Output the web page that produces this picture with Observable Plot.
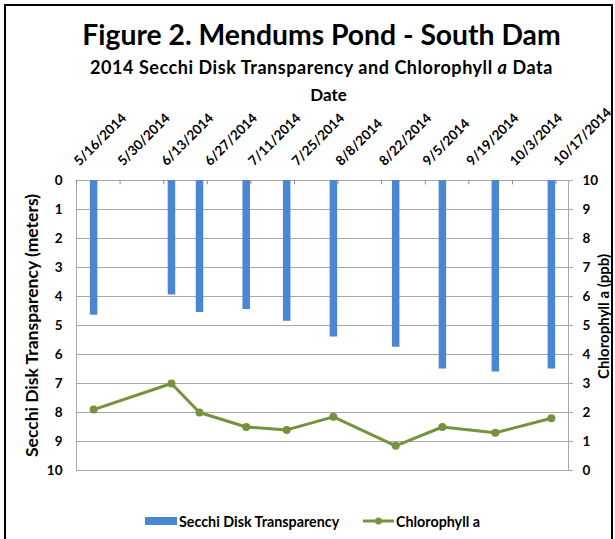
<!DOCTYPE html>
<html><head><meta charset="utf-8">
<script src="https://cdn.jsdelivr.net/npm/d3@7"></script>
<script src="https://cdn.jsdelivr.net/npm/@observablehq/plot@0.6"></script>
<style>
body{margin:0;background:#fff;font-family:Lato,"Open Sans",sans-serif;}
#wrap{position:relative;width:615px;height:539px;overflow:hidden;background:#fff;}
#frame{position:absolute;left:4px;top:4px;width:605px;height:600px;border:2px solid #000;}
.t{position:absolute;left:0;width:615px;text-align:center;font-weight:bold;color:#000;white-space:nowrap;}
#chart{position:absolute;left:0;top:0;}
#legend{position:absolute;left:0;top:511px;width:615px;height:20px;font-weight:bold;font-size:14.3px;color:#000;}
#legend .item{position:absolute;top:0;display:flex;align-items:center;height:20px;}
</style></head><body>
<div id="wrap">
  <div id="frame"></div>
  <div id="chart"></div>
  <div class="t" style="top:17px;font-size:28.3px;left:14px;">Figure 2. Mendums Pond - South Dam</div>
  <div class="t" style="top:56px;font-size:18px;left:14px;letter-spacing:0.55px;">2014 Secchi Disk Transparency and Chlorophyll <i>a</i> Data</div>
  <div class="t" style="top:84px;font-size:17px;left:21px;">Date</div>
  <div id="legend">
    <div class="item" style="left:145px;"><span style="display:inline-block;width:32px;height:8px;background:#4a86d4;margin-right:2px;"></span>Secchi Disk Transparency</div>
    <div class="item" style="left:363px;"><svg width="31" height="10" style="margin-right:2px"><line x1="0" y1="5" x2="31" y2="5" stroke="#76923c" stroke-width="3"/><circle cx="15.5" cy="5" r="3.5" fill="#76923c"/></svg>Chlorophyll a</div>
  </div>
</div>
<script>
// ---- data ----
const sampleDates = ["2014-05-21","2014-06-15","2014-06-24","2014-07-09","2014-07-22","2014-08-06","2014-08-26","2014-09-10","2014-09-27","2014-10-15"];
const secchiDepth = [4.65, 3.95, 4.55, 4.45, 4.85, 5.4, 5.75, 6.5, 6.6, 6.5];
const chlorophyll = [2.1, 3.0, 2.0, 1.5, 1.4, 1.85, 0.85, 1.5, 1.3, 1.8];
const dateTickLabels = ["5/16/2014","5/30/2014","6/13/2014","6/27/2014","7/11/2014","7/25/2014","8/8/2014","8/22/2014","9/5/2014","9/19/2014","10/3/2014","10/17/2014"];
const depthTicks = [0,1,2,3,4,5,6,7,8,9,10];
const chlTicks = [0,1,2,3,4,5,6,7,8,9,10];
const xDomain = ["2014-05-16","2014-10-21"];

const parse = d3.utcParse("%m/%d/%Y");
const tickDates = dateTickLabels.map(parse);
const data = sampleDates.map((d, i) => ({
  date: d3.utcHour.offset(new Date(d), 12),
  secchi: secchiDepth[i],
  chl: chlorophyll[i]
}));
const chlMax = 10;
const blue = "#4a86d4", green = "#76923c", grid = "#a8a8a8";

const chart = Plot.plot({
  width: 615, height: 539,
  marginTop: 180, marginLeft: 76, marginRight: 47, marginBottom: 69,
  style: {fontFamily: "Lato, 'Open Sans', sans-serif", fontWeight: "bold", fontSize: "13px", color: "#000", background: "transparent"},
  x: {type: "utc", domain: xDomain.map(d => new Date(d))},
  y: {domain: [0, 10], reverse: true},
  marks: [
    Plot.gridY(depthTicks, {stroke: grid, strokeOpacity: 1}),
    Plot.frame({stroke: grid}),
    Plot.ruleX(tickDates, {x: d => d, y1: 0, y2: 0.15, stroke: "#888"}),
    Plot.ruleX(data, {x: "date", y1: 0, y2: "secchi", stroke: blue, strokeWidth: 7.5}),
    Plot.line(data, {x: "date", y: d => chlMax - d.chl, stroke: green, strokeWidth: 3}),
    Plot.dot(data, {x: "date", y: d => chlMax - d.chl, r: 4, fill: green}),
    Plot.axisY(depthTicks, {anchor: "left", tickSize: 0, tickPadding: 14, label: null, fontSize: 13.5}),
    Plot.axisY(chlTicks, {anchor: "right", tickSize: 4, tickPadding: 10, stroke: grid, tickFormat: d => chlMax - d, label: null, fontSize: 13.5}),
    Plot.axisX(tickDates, {anchor: "top", tickSize: 0, tickPadding: 17, tickRotate: -45, textAnchor: "start",
      tickFormat: d => dateTickLabels[tickDates.findIndex(t => +t === +d)], label: null, fontSize: 13.5}),
    Plot.text(["Secchi Disk Transparency (meters)"], {frameAnchor: "left", dx: -44, rotate: -90, textAnchor: "middle", fontSize: 17.5, letterSpacing: 0.4}),
    Plot.text(["Chlorophyll a (ppb)"], {frameAnchor: "right", dx: 36, dy: -9, rotate: -90, textAnchor: "middle", fontSize: 15})
  ]
});
document.getElementById("chart").appendChild(chart);
</script>
</body></html>
